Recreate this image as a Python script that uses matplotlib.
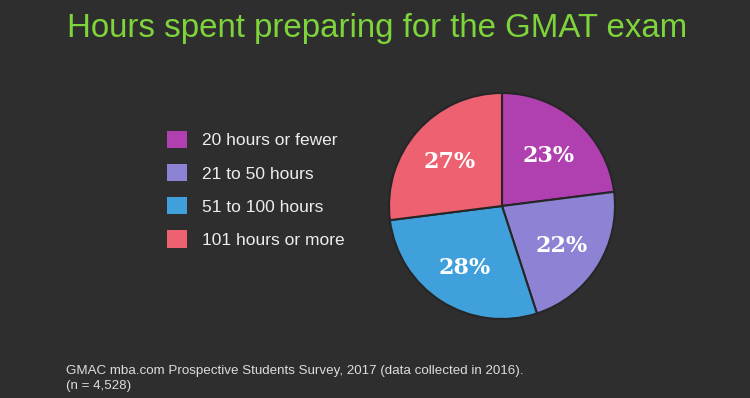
import matplotlib
matplotlib.use("Agg")
import matplotlib.pyplot as plt

categories = ["20 hours or fewer", "21 to 50 hours", "51 to 100 hours", "101 hours or more"]
values = [23, 22, 28, 27]
labels = ["23%", "22%", "28%", "27%"]
colors = ["#B03FB0", "#8C83D4", "#3FA0DC", "#EE6170"]

bg = "#2E2E2E"
W, H = 750, 398
fig = plt.figure(figsize=(W / 100, H / 100), dpi=100, facecolor=bg)

cx, cy, r = 502, 206, 113
ax = fig.add_axes([(cx - r) / W, (H - cy - r) / H, 2 * r / W, 2 * r / H])
ax.set_facecolor(bg)
wedges, texts = ax.pie(values, labels=labels, colors=colors, startangle=90,
                       counterclock=False, labeldistance=0.62,
                       wedgeprops=dict(edgecolor="#262626", linewidth=1.5),
                       textprops=dict(color="white", fontsize=16, fontweight="bold",
                                      family="DejaVu Serif", ha="center", va="center"))
for t in texts:
    x, y = t.get_position()
    t.set_position((x, y - 0.025))
ax.set_xlim(-1.0, 1.0)
ax.set_ylim(-1.0, 1.0)
ax.set_aspect("equal")
ax.axis("off")

fig.text(0.503, 1 - 29 / H, "Hours spent preparing for the GMAT exam", color="#7ED43B",
         fontsize=23.8, family="Liberation Sans", ha="center", va="center")

leg = fig.legend(wedges, categories, loc="upper left",
                 bbox_to_anchor=(160 / W, 1 - 124 / H), frameon=False,
                 handlelength=1.15, handleheight=1.15,
                 handletextpad=0.85, labelspacing=0.9, borderaxespad=0,
                 prop=dict(family="Liberation Sans", size=12.5))
for t in leg.get_texts():
    t.set_color("#EDEDED")
for h in leg.legend_handles:
    h.set_edgecolor("none")

fig.text(66 / W, 1 - 371 / H, "GMAC mba.com Prospective Students Survey, 2017 (data collected in 2016).",
         color="#DDDDDD", fontsize=9.6, family="Liberation Sans", ha="left", va="center")
fig.text(66 / W, 1 - 386 / H, "(n = 4,528)",
         color="#DDDDDD", fontsize=9.6, family="Liberation Sans", ha="left", va="center")

fig.savefig("out.png", dpi=100, facecolor=bg)
